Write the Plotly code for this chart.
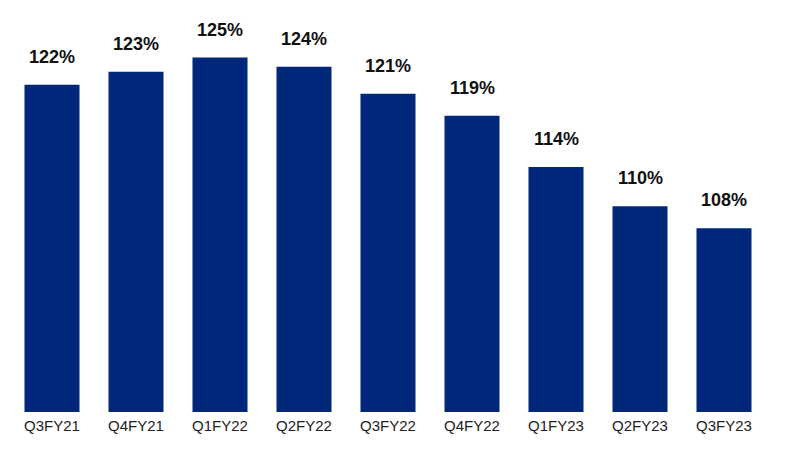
import plotly.graph_objects as go

categories = ["Q3FY21", "Q4FY21", "Q1FY22", "Q2FY22", "Q3FY22", "Q4FY22", "Q1FY23", "Q2FY23", "Q3FY23"]
values = [122.3, 123.6, 125.0, 124.1, 121.4, 119.2, 114.1, 110.2, 108.0]
labels = ["122%", "123%", "125%", "124%", "121%", "119%", "114%", "110%", "108%"]

bar_color = "#00287A"

fig = go.Figure()
fig.add_trace(go.Bar(
    x=categories, y=values, marker_color=bar_color, marker_line_width=0,
    hoverinfo="skip",
))

for c, v, t in zip(categories, values, labels):
    fig.add_annotation(
        x=c, y=v, text="<b>" + t + "</b>", showarrow=False, yanchor="bottom", yshift=16,
        font=dict(family="Liberation Sans, Arial", size=18, color="#111111"),
    )

fig.update_layout(
    width=774, height=448,
    margin=dict(l=2, r=16, t=0, b=44),
    paper_bgcolor="white", plot_bgcolor="white",
    bargap=0.345,
    showlegend=False,
    xaxis=dict(
        showline=False, showgrid=False, ticks="", ticklabelstandoff=3,
        tickfont=dict(family="Liberation Sans, Arial", size=15, color="#222222"),
    ),
    yaxis=dict(range=[89.7, 129.94], visible=False, showgrid=False),
)

fig.write_html("out.html")
